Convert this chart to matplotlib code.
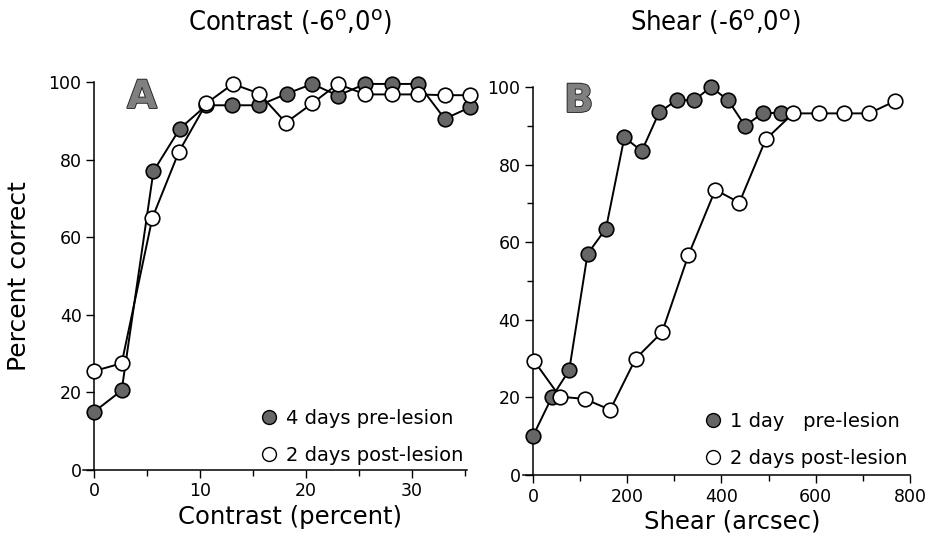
import matplotlib
matplotlib.use("Agg")
import matplotlib.pyplot as plt
import matplotlib.patheffects as pe
from matplotlib.lines import Line2D
from matplotlib.ticker import MultipleLocator

# Panel A: contrast (percent) vs percent correct
contrast_pre = [0, 2.6, 5.6, 8.1, 10.6, 13.0, 15.6, 18.2, 20.6, 23.0, 25.6, 28.1, 30.6, 33.1, 35.5]
correct_pre_a = [15, 20.5, 77, 88, 94, 94, 94, 97, 99.5, 96.5, 99.5, 99.5, 99.5, 90.5, 93.5]
contrast_post = [0, 2.6, 5.5, 8.0, 10.6, 13.1, 15.6, 18.1, 20.6, 23.0, 25.6, 28.1, 30.6, 33.1, 35.5]
correct_post_a = [25.5, 27.5, 65, 82, 94.5, 99.5, 97, 89.5, 94.5, 99.5, 96.8, 96.8, 96.8, 96.6, 96.6]

# Panel B: shear (arcsec) vs percent correct
shear_pre = [0, 40, 77, 116, 155, 194, 231, 268, 305, 342, 378, 414, 450, 488, 526]
correct_pre_b = [10, 20, 27, 57, 63.5, 87, 83.5, 93.5, 96.6, 96.6, 100, 96.6, 90, 93.3, 93.3]
shear_post = [2, 57, 110, 164, 218, 274, 330, 387, 438, 494, 552, 606, 660, 713, 769]
correct_post_b = [29.5, 20.2, 19.6, 16.8, 30, 36.8, 56.7, 73.5, 70.2, 86.5, 93.2, 93.2, 93.2, 93.2, 96.4]

labels_a = ["4 days pre-lesion", "2 days post-lesion"]
labels_b = ["1 day   pre-lesion", "2 days post-lesion"]

FILL = "#666666"
plt.rcParams["font.family"] = ["DejaVu Sans"]

fig = plt.figure(figsize=(9.31, 5.44), dpi=100)
ax_a = fig.add_axes([83 / 931, 1 - 470 / 544, 384 / 931, 388 / 544])
ax_b = fig.add_axes([523 / 931, 1 - 475 / 544, 387 / 931, 388 / 544])


def style(ax):
    for s in ("top", "right"):
        ax.spines[s].set_visible(False)
    ax.spines["left"].set_position(("data", 0))
    ax.spines["left"].set_linewidth(1.1)
    ax.spines["bottom"].set_linewidth(1.1)
    ax.set_ylim(0, 100)
    ax.yaxis.set_major_locator(MultipleLocator(20))
    ax.tick_params(which="major", direction="out", length=6, width=1, labelsize=12.5, pad=3)
    ax.tick_params(which="minor", direction="out", length=4, width=1)
    ax.patch.set_alpha(0)


def series(ax, x, y, filled):
    ax.plot(x, y, "-o", color="black", lw=1.4, ms=10.5, mec="black", mew=1.2,
            mfc=FILL if filled else "white", clip_on=False, zorder=3)


def legend(ax, labels, anchor):
    handles = [Line2D([], [], ls="none", marker="o", ms=10, mec="black", mew=1, mfc=FILL),
               Line2D([], [], ls="none", marker="o", ms=10, mec="black", mew=1, mfc="white")]
    ax.legend(handles, labels, loc="lower right", bbox_to_anchor=anchor,
              bbox_transform=fig.transFigure, frameon=False, fontsize=14,
              handlelength=0.8, handletextpad=0.45, labelspacing=0.95, borderpad=0,
              borderaxespad=0)


# panel A
style(ax_a)
series(ax_a, contrast_pre, correct_pre_a, True)
series(ax_a, contrast_post, correct_post_a, False)
ax_a.set_xlim(-1.05, 35.2)
ax_a.xaxis.set_major_locator(MultipleLocator(10))
ax_a.xaxis.set_minor_locator(MultipleLocator(5))
ax_a.set_xlabel("Contrast (percent)", fontsize=17.5)
ax_a.xaxis.set_label_coords((290 - 83) / 384, -0.09)
ax_a.set_ylabel("Percent correct", fontsize=18)
ax_a.yaxis.set_label_coords(-0.135, 0.5)
legend(ax_a, labels_a, (463 / 931, 1 - 465 / 544))

# panel B
style(ax_b)
series(ax_b, shear_pre, correct_pre_b, True)
series(ax_b, shear_post, correct_post_b, False)
ax_b.set_xlim(-21, 800)
ax_b.xaxis.set_major_locator(MultipleLocator(200))
ax_b.xaxis.set_minor_locator(MultipleLocator(100))
ax_b.yaxis.set_minor_locator(MultipleLocator(10))
ax_b.set_xlabel("Shear (arcsec)", fontsize=17.5)
ax_b.xaxis.set_label_coords((732 - 523) / 387, -0.09)
legend(ax_b, labels_b, (907 / 931, 1 - 468 / 544))

# panel letters
for x, y, s in [(127, 108, "A"), (564, 112, "B")]:
    fig.text(x / 931, 1 - y / 544, s, fontsize=28, fontweight="bold", color="#808080",
             ha="left", va="baseline",
             path_effects=[pe.withStroke(linewidth=1.3, foreground="#222222")])

# titles
fig.text(290 / 931, 1 - 22 / 544, r"Contrast (-6$^{\rm o}$,0$^{\rm o}$)",
         fontstretch="condensed", fontsize=19.5, ha="center", va="center")
fig.text(715 / 931, 1 - 22 / 544, r"Shear (-6$^{\rm o}$,0$^{\rm o}$)",
         fontstretch="condensed", fontsize=19.5, ha="center", va="center")

fig.savefig("out.png", dpi=100)
